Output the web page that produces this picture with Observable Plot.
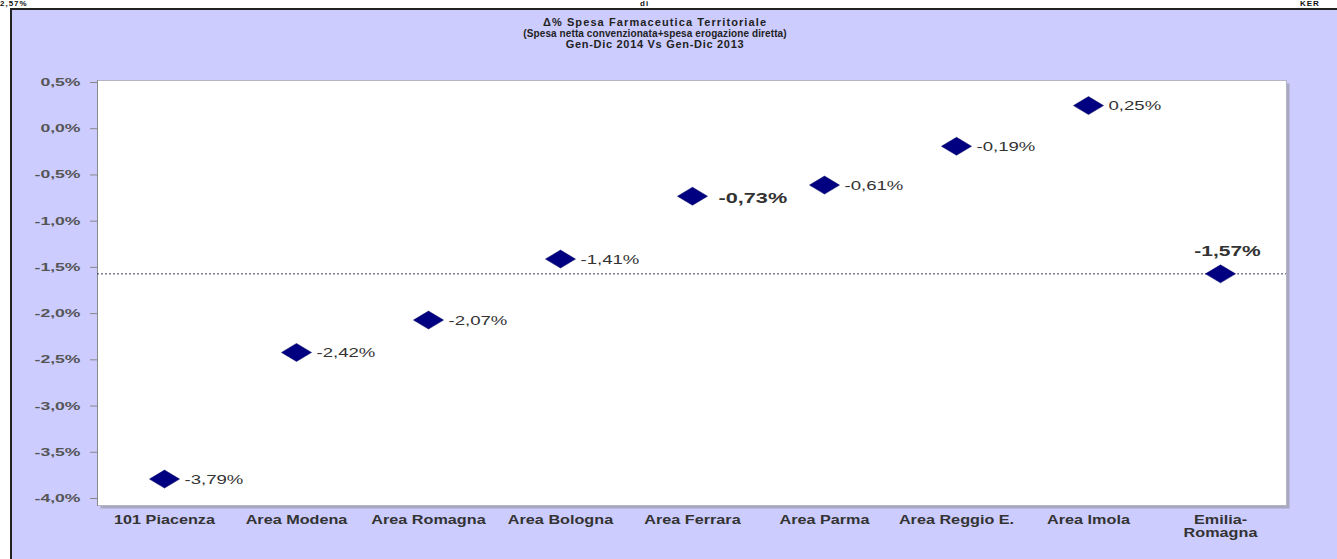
<!DOCTYPE html>
<html>
<head>
<meta charset="utf-8">
<script src="https://cdn.jsdelivr.net/npm/d3@7"></script>
<script src="https://cdn.jsdelivr.net/npm/@observablehq/plot@0.6"></script>
<style>
  html, body { margin: 0; padding: 0; background: #fff; width: 1337px; height: 559px; overflow: hidden; }
  #strip { position: absolute; left: 0; top: 0; width: 1337px; height: 9px; overflow: hidden; font: bold 8px "Liberation Sans", Arial, sans-serif; line-height: 8px; color: #111; letter-spacing: 1px; }
  #strip span { position: absolute; top: 0px; }
  #box { position: absolute; left: 10px; top: 8px; width: 1325px; height: 551px; background: #ccccff; border-left: 2px solid #222; border-top: 2px solid #222; overflow: hidden; }
  #title { height: 49px; box-sizing: border-box; padding-right: 39px; text-align: center; font-family: "Liberation Sans", Arial, sans-serif; font-weight: bold; color: #222; line-height: 11px; }
  #t1 { padding-top: 7px; font-size: 11px; letter-spacing: 1.1px; }
  #t2 { font-size: 10px; letter-spacing: 0.1px; }
  #t3 { font-size: 11px; letter-spacing: 0.7px; }
  #chart svg { display: block; }
</style>
</head>
<body>
<div id="strip"><span style="left:0px">2,57%</span><span style="left:640px">di</span><span style="left:1300px">KER</span></div>
<div id="box">
  <div id="title">
    <div id="t1">Δ% Spesa Farmaceutica Territoriale</div>
    <div id="t2">(Spesa netta convenzionata+spesa erogazione diretta)</div>
    <div id="t3">Gen-Dic 2014 Vs Gen-Dic 2013</div>
  </div>
  <div id="chart"></div>
</div>
<script>
const categories = ["101 Piacenza", "Area Modena", "Area Romagna", "Area Bologna", "Area Ferrara", "Area Parma", "Area Reggio E.", "Area Imola", "Emilia-Romagna"];
const tickLabels = ["101 Piacenza", "Area Modena", "Area Romagna", "Area Bologna", "Area Ferrara", "Area Parma", "Area Reggio E.", "Area Imola", "Emilia-\nRomagna"];
const deltas = [-3.79, -2.42, -2.07, -1.41, -0.73, -0.61, -0.19, 0.25, -1.57];
const yTicks = [0.5, 0, -0.5, -1, -1.5, -2, -2.5, -3, -3.5, -4];
const regionalValue = -1.57;

const data = categories.map((c, i) => ({cat: c, v: deltas[i]}));
const fmt = v => v.toFixed(2).replace(".", ",") + "%";
const fmtTick = v => v.toFixed(1).replace(".", ",") + "%";

const wideDiamond = {
  draw(ctx, size) {
    const r = Math.sqrt(size / Math.PI);
    ctx.moveTo(-1.67 * r, 0);
    ctx.lineTo(0, -r);
    ctx.lineTo(1.67 * r, 0);
    ctx.lineTo(0, r);
    ctx.closePath();
  }
};

const normal = data.filter(d => d.cat !== "Area Ferrara" && d.cat !== "Emilia-Romagna");
const ferrara = data.filter(d => d.cat === "Area Ferrara");
const regional = data.filter(d => d.cat === "Emilia-Romagna");

const chart = Plot.plot({
  width: 1325,
  height: 500,
  marginTop: 21,
  marginBottom: 54,
  marginLeft: 85,
  marginRight: 51,
  style: {background: "transparent", fontFamily: "'Liberation Sans', Arial, sans-serif"},
  x: {type: "band", domain: categories, padding: 0, align: 0.5},
  y: {domain: [-4, 0.5], insetTop: 2, insetBottom: 7},
  marks: [
    Plot.frame({fill: "#a8a8c0", dx: 3, dy: 3}),
    Plot.frame({fill: "#ffffff", stroke: "#b4b4c4"}),
    Plot.frame({anchor: "left", stroke: "#888"}),
    Plot.ruleY([regionalValue], {stroke: "#3a3a60", strokeWidth: 1, strokeDasharray: "2,2"}),
    Plot.axisY({ticks: yTicks, tickFormat: fmtTick, tickSize: 7, tickPadding: 10, stroke: "#888",
      fill: "#555", fontWeight: "bold", fontSize: 11, label: null, className: "sx160"}),
    Plot.axisX({tickFormat: d => tickLabels[categories.indexOf(d)], tickSize: 0, tickPadding: 10,
      fill: "#333", fontWeight: "bold", fontSize: 12, label: null, lineHeight: 1.05, className: "sx135"}),
    Plot.dot(data, {x: "cat", y: "v", symbol: wideDiamond, r: 9, fill: "#000080", stroke: "#000060", strokeWidth: 0.5}),
    Plot.text(normal, {x: "cat", y: "v", text: d => fmt(d.v), textAnchor: "start", dx: 20, dy: 1, fill: "#333", fontSize: 12, className: "sx155"}),
    Plot.text(ferrara, {x: "cat", y: "v", text: d => fmt(d.v), textAnchor: "start", dx: 26, dy: 2, fill: "#333", fontSize: 14, fontWeight: "bold", className: "sx155"}),
    Plot.text(regional, {x: "cat", y: "v", text: d => fmt(d.v), textAnchor: "middle", dx: 7, dy: -22, fill: "#333", fontSize: 14, fontWeight: "bold", className: "sx150"})
  ]
});
document.getElementById("chart").appendChild(chart);

// horizontally stretch the texts like the reference rendering
const stretch = {sx160: 1.6, sx135: 1.35, sx155: 1.55, sx150: 1.5};
for (const [cls, s] of Object.entries(stretch)) {
  chart.querySelectorAll("." + cls + " text").forEach(t => {
    const tr = t.getAttribute("transform");
    if (tr) {
      t.setAttribute("transform", tr + ` scale(${s},1)`);
    } else {
      const x = +(t.getAttribute("x") || 0);
      t.setAttribute("transform", `translate(${x},0) scale(${s},1) translate(${-x},0)`);
    }
  });
}
</script>
</body>
</html>
